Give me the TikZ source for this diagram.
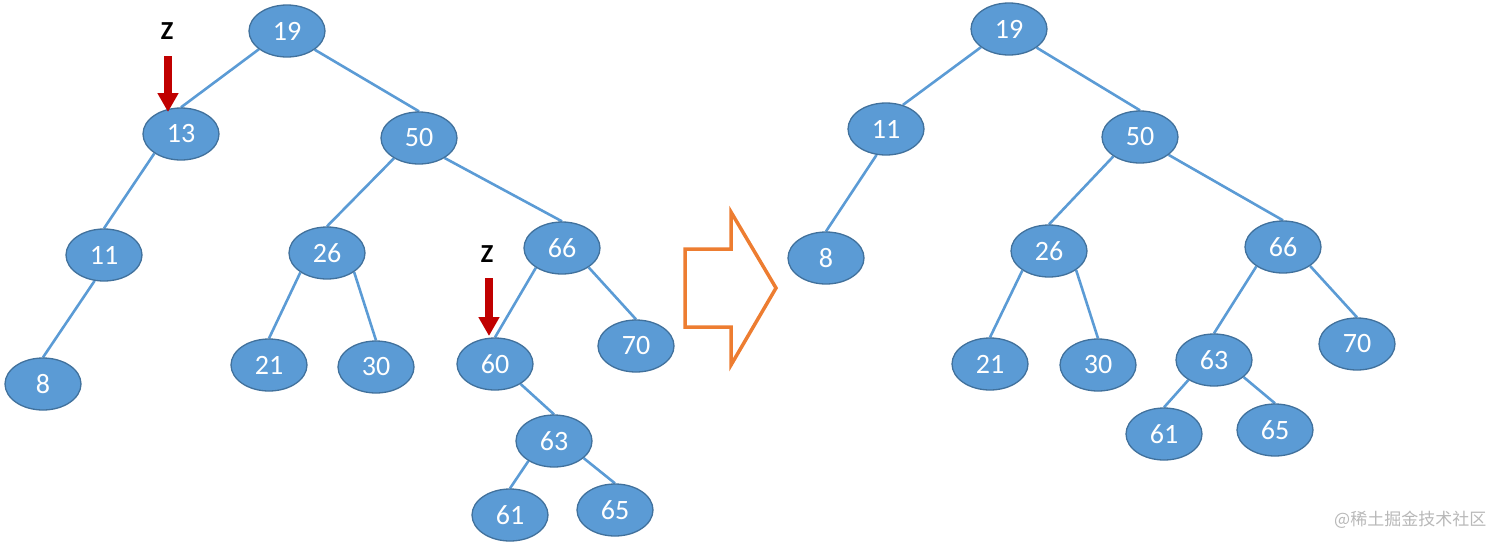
\documentclass[tikz,border=0pt]{standalone}
\usepackage{fontspec}
\setmainfont{Carlito}
\newfontfamily\cjk{Noto Sans CJK SC}
\usetikzlibrary{shapes.geometric,arrows.meta,backgrounds}
\definecolor{nodefill}{HTML}{5B9BD5}
\definecolor{nodeborder}{HTML}{41719C}
\definecolor{edgecol}{HTML}{5B9BD5}
\definecolor{zred}{HTML}{C00000}
\definecolor{arrorange}{HTML}{ED7D31}
\definecolor{wmgray}{HTML}{B8B8B8}
\begin{document}
\begin{tikzpicture}[x=1pt,y=-1pt,
  tnode/.style={ellipse, draw=nodeborder, line width=1.3pt, fill=nodefill, text=white,
    minimum width=76pt, minimum height=52pt, inner sep=0pt, font=\fontsize{28}{28}\selectfont},
  tedge/.style={draw=edgecol, line width=2.6pt},
  zlabel/.style={font=\fontsize{26}{26}\selectfont\bfseries, text=black, inner sep=0pt},
  redarrow/.style={draw=zred, line width=8.5pt, -{Triangle[width=20pt,length=19pt]}},
  bigarrow/.style={draw=arrorange, line width=3.5pt, line join=miter, fill=none},
  wmark/.style={font=\cjk\fontsize{17}{17}\selectfont, text=wmgray, inner sep=0pt}
]
\useasboundingbox (0,0) rectangle (1512,547);

% ---------- left tree ----------
\node[tnode] (L19) at (287,31) {19};
\node[tnode] (L13) at (181,134) {13};
\node[tnode] (L50) at (419,138) {50};
\node[tnode] (L11) at (104,255) {11};
\node[tnode] (L8)  at (43,384) {8};
\node[tnode] (L26) at (327,253) {26};
\node[tnode] (L66) at (562,248) {66};
\node[tnode] (L21) at (269,365) {21};
\node[tnode] (L30) at (376,367) {30};
\node[tnode] (L60) at (495,364) {60};
\node[tnode] (L70) at (636,346) {70};
\node[tnode] (L63) at (554,441) {63};
\node[tnode] (L61) at (510,515) {61};
\node[tnode] (L65) at (615,510) {65};

\begin{scope}[on background layer]
\draw[tedge] (L19.213) -- (L13.90);
\draw[tedge] (L19.326) -- (L50.90);
\draw[tedge] (L13.216) -- (L11.90);
\draw[tedge] (L11.250) -- (L8.90);
\draw[tedge] (L50.219) -- (L26.90);
\draw[tedge] (L50.322) -- (L66.90);
\draw[tedge] (L26.216) -- (L21.90);
\draw[tedge] (L26.325) -- (L30.90);
\draw[tedge] (L66.217) -- (L60.90);
\draw[tedge] (L66.324) -- (L70.90);
\draw[tedge] (L60.322) -- (L63.90);
\draw[tedge] (L63.218) -- (L61.90);
\draw[tedge] (L63.330) -- (L65.90);
\end{scope}

% Z markers
\node[zlabel] (Z1) at (167,31) {Z};
\coordinate (Z1s) at (168,56);
\coordinate (Z1t) at (168,112);
\draw[redarrow] (Z1s) -- (Z1t);
\node[zlabel] (Z2) at (487,254) {Z};
\coordinate (Z2s) at (489,278);
\coordinate (Z2t) at (489,336);
\draw[redarrow] (Z2s) -- (Z2t);

% ---------- big orange arrow ----------
\draw[bigarrow] (685,249) -- (731,249) -- (731,212) -- (776,288) -- (731,365) -- (731,327) -- (685,327) -- cycle;

% ---------- right tree ----------
\node[tnode] (R19) at (1009,29) {19};
\node[tnode] (R11) at (886,129) {11};
\node[tnode] (R50) at (1140,137) {50};
\node[tnode] (R8)  at (826,258) {8};
\node[tnode] (R26) at (1049,251) {26};
\node[tnode] (R66) at (1283,247) {66};
\node[tnode] (R21) at (990,364) {21};
\node[tnode] (R30) at (1098,365) {30};
\node[tnode] (R63) at (1214,360) {63};
\node[tnode] (R70) at (1357,344) {70};
\node[tnode] (R61) at (1164,434) {61};
\node[tnode] (R65) at (1275,430) {65};

\begin{scope}[on background layer]
\draw[tedge] (R19.213) -- (R11.55);
\draw[tedge] (R19.326) -- (R50.90);
\draw[tedge] (R11.250) -- (R8.90);
\draw[tedge] (R50.216) -- (R26.90);
\draw[tedge] (R50.328) -- (R66.90);
\draw[tedge] (R26.216) -- (R21.90);
\draw[tedge] (R26.325) -- (R30.90);
\draw[tedge] (R66.216) -- (R63.90);
\draw[tedge] (R66.325) -- (R70.90);
\draw[tedge] (R63.218) -- (R61.90);
\draw[tedge] (R63.330) -- (R65.90);
\end{scope}

% watermark
\node[wmark, anchor=west] (wm) at (1334,520) {@稀土掘金技术社区};
\end{tikzpicture}
\end{document}
